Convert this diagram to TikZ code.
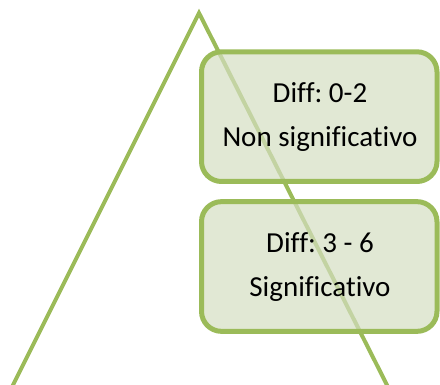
\documentclass[tikz,border=0pt]{standalone}
\usepackage{fontspec}
\setmainfont[Ligatures={NoCommon}]{Carlito}
\frenchspacing
\definecolor{leaf}{RGB}{155,187,89}
\definecolor{boxfill}{RGB}{212,222,194}
\tikzset{
  leg/.style={draw=leaf, line width=4pt, line join=miter},
  panel/.style={draw=leaf, line width=5pt, fill=boxfill, fill opacity=0.7, draw opacity=1,
                rounded corners=20pt, inner sep=0pt, minimum width=235.5pt, minimum height=129.7pt},
  lbl/.style={anchor=base, inner sep=0pt, text=black, font=\fontsize{29}{35}\selectfont}
}
\begin{document}
\begin{tikzpicture}[x=1pt,y=1pt]
\useasboundingbox (0,0) rectangle (440,385);
\begin{scope}
\clip (0,0) rectangle (440,385);
\coordinate (bl) at (12,-2);
\coordinate (apex) at (199,372);
\coordinate (br) at (388,-2);
\draw[leg] (bl) -- (apex) -- (br);
\end{scope}
\node[panel] (b1) at (319.25,268.35) {};
\node[panel] (b2) at (319.25,118.5) {};
\node[lbl] (t1a) at (320,282) {Diff: 0-2};
\node[lbl] (t1b) at (320,238) {Non significativo};
\node[lbl] (t2a) at (320,132) {Diff: 3 - 6};
\node[lbl] (t2b) at (320,88) {Significativo};
\end{tikzpicture}
\end{document}
